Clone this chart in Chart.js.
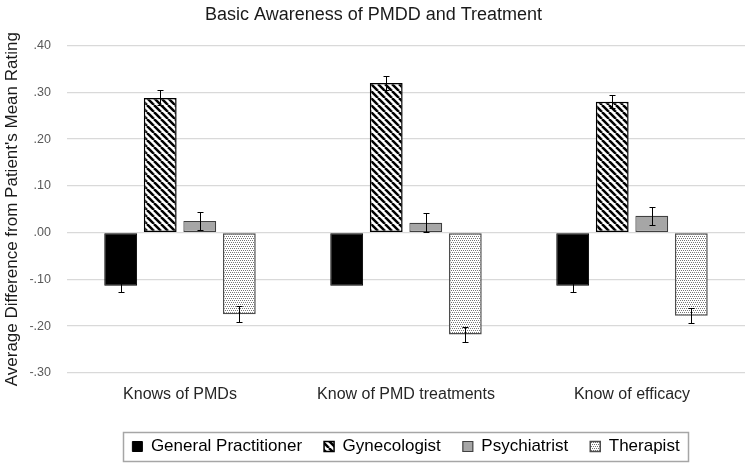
<!DOCTYPE html>
<html>
<head>
<meta charset="utf-8">
<script src="https://cdn.jsdelivr.net/npm/chart.js@4/dist/chart.umd.min.js"></script>
<style>
  html, body { margin: 0; padding: 0; background: #fff; }
  #wrap { width: 750px; height: 465px; }
</style>
</head>
<body>
<div id="wrap"><canvas id="awareChart" width="750" height="465"></canvas></div>
<script>
/* ── Data ── */
const categories = ["Knows of PMDs", "Know of PMD treatments", "Know of efficacy"];
const gpValues = [-0.114, -0.114, -0.114];
const gpErrors = [0.013, 0, 0.013];
const gynValues = [0.288, 0.320, 0.280];
const gynErrors = [0.016, 0.016, 0.014];
const psychValues = [0.025, 0.021, 0.036];
const psychErrors = [0.020, 0.020, 0.019];
const therValues = [-0.175, -0.218, -0.178];
const therErrors = [0.017, 0.017, 0.016];
const yTicks = [-0.3, -0.2, -0.1, 0, 0.1, 0.2, 0.3, 0.4];

const FONT = "Liberation Sans, Arial, sans-serif";

/* ── Fill patterns ── */
function stripePattern() {
  const s = 7;
  const c = document.createElement("canvas");
  c.width = s; c.height = s;
  const g = c.getContext("2d");
  g.fillStyle = "#fff";
  g.fillRect(0, 0, s, s);
  g.strokeStyle = "#000";
  g.lineWidth = 2.5;
  for (let k = -1; k <= 1; k++) {
    g.beginPath();
    g.moveTo(k * s, 0);
    g.lineTo(k * s + s, s);
    g.stroke();
  }
  return g.createPattern(c, "repeat");
}

function dotPattern() {
  const c = document.createElement("canvas");
  c.width = 4; c.height = 4;
  const g = c.getContext("2d");
  g.fillStyle = "#fff";
  g.fillRect(0, 0, 4, 4);
  g.fillStyle = "#777";
  [[0, 0], [2, 0], [1, 2], [3, 2]].forEach(([x, y]) => g.fillRect(x, y, 1, 1));
  return g.createPattern(c, "repeat");
}

/* ── Error bars ── */
const errorBars = {
  id: "errorBars",
  afterDatasetsDraw(chart) {
    const ctx = chart.ctx;
    const y = chart.scales.y;
    ctx.save();
    ctx.strokeStyle = "#000";
    ctx.lineWidth = 1;
    chart.data.datasets.forEach((ds, i) => {
      const meta = chart.getDatasetMeta(i);
      meta.data.forEach((bar, j) => {
        const e = ds.errors[j];
        if (!e) return;
        const v = ds.data[j];
        const x = Math.round(bar.x) + 0.5;
        const y1 = Math.round(y.getPixelForValue(v + e)) + 0.5;
        const y2 = Math.round(y.getPixelForValue(v - e)) + 0.5;
        ctx.beginPath();
        ctx.moveTo(x, y1); ctx.lineTo(x, y2);
        ctx.moveTo(x - 3, y1); ctx.lineTo(x + 3, y1);
        ctx.moveTo(x - 3, y2); ctx.lineTo(x + 3, y2);
        ctx.stroke();
      });
    });
    ctx.restore();
  },
};

/* ── Border round the legend ── */
const legendFrame = {
  id: "legendFrame",
  afterDraw(chart) {
    const boxes = chart.legend.legendHitBoxes;
    if (!boxes || !boxes.length) return;
    const left = Math.min(...boxes.map((b) => b.left)) - 9;
    const right = Math.max(...boxes.map((b) => b.left + b.width)) + 9;
    const top = Math.min(...boxes.map((b) => b.top)) - 6;
    const bottom = Math.max(...boxes.map((b) => b.top + b.height)) + 6;
    const ctx = chart.ctx;
    ctx.save();
    ctx.strokeStyle = "#a6a6a6";
    ctx.lineWidth = 1.5;
    ctx.strokeRect(Math.round(left) + 0.5, Math.round(top) + 0.5, Math.round(right - left), Math.round(bottom - top));
    ctx.restore();
  },
};

const fmt = (v) => v.toFixed(2).replace("0.", ".");

new Chart(document.getElementById("awareChart"), {
  type: "bar",
  data: {
    labels: categories,
    datasets: [
      {
        label: "General Practitioner",
        data: gpValues,
        errors: gpErrors,
        backgroundColor: "#000",
        borderColor: "#000",
        borderWidth: 1,
      },
      {
        label: "Gynecologist",
        data: gynValues,
        errors: gynErrors,
        backgroundColor: stripePattern(),
        borderColor: "#000",
        borderWidth: 1.5,
      },
      {
        label: "Psychiatrist",
        data: psychValues,
        errors: psychErrors,
        backgroundColor: "#a6a6a6",
        borderColor: "#404040",
        borderWidth: 1.2,
      },
      {
        label: "Therapist",
        data: therValues,
        errors: therErrors,
        backgroundColor: dotPattern(),
        borderColor: "#4d4d4d",
        borderWidth: 1.5,
      },
    ],
  },
  options: {
    responsive: false,
    animation: false,
    layout: { padding: { left: 2, right: 5, top: 4, bottom: 0 } },
    datasets: {
      bar: { categoryPercentage: 0.7, barPercentage: 0.83, borderSkipped: false },
    },
    plugins: {
      title: {
        display: true,
        text: "Basic Awareness of PMDD and Treatment",
        color: "#1a1a1a",
        font: { family: FONT, size: 18, weight: "normal" },
        padding: { top: 0, bottom: 20 },
      },
      legend: {
        position: "bottom",
        fullSize: false,
        labels: {
          color: "#000",
          boxWidth: 10,
          boxHeight: 10,
          padding: 22,
          font: { family: FONT, size: 17 },
        },
      },
      tooltip: { enabled: false },
    },
    scales: {
      x: {
        grid: { display: false, drawTicks: false },
        border: { display: false },
        ticks: {
          color: "#262626",
          padding: 12,
          font: { family: FONT, size: 16 },
        },
      },
      y: {
        min: -0.3,
        max: 0.4,
        afterBuildTicks: (axis) => { axis.ticks = yTicks.map((v) => ({ value: v })); },
        afterFit: (axis) => { axis.width = 65; },
        grid: { color: "#d9d9d9", lineWidth: 1.2, drawTicks: false },
        border: { display: false },
        ticks: {
          color: "#595959",
          padding: 16,
          font: { family: FONT, size: 12.5 },
          callback: (v) => fmt(v),
        },
        title: {
          display: true,
          text: "Average Difference from Patient's Mean Rating",
          color: "#1a1a1a",
          padding: { top: 0, bottom: 6 },
          font: { family: FONT, size: 17 },
        },
      },
    },
  },
  plugins: [errorBars, legendFrame],
});
</script>
</body>
</html>
